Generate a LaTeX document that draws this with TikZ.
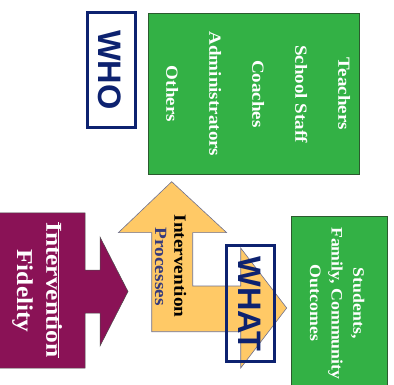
\documentclass[tikz,border=0pt]{standalone}
\usepackage{fontspec}
\newfontfamily\headsans{Liberation Sans}
\newfontfamily\boldserif[FakeStretch=1.12]{Liberation Serif Bold}
\definecolor{boxgreen}{HTML}{33B145}
\definecolor{boxgreenline}{HTML}{2B5A2E}
\definecolor{fidmaroon}{HTML}{8A1256}
\definecolor{procorange}{HTML}{FFC966}
\definecolor{procline}{HTML}{6E7190}
\definecolor{tagnavy}{HTML}{0D2270}
\definecolor{procblue}{HTML}{363B7C}
\tikzset{
  vtext/.style={rotate=-90, anchor=base, inner sep=0pt},
  greenbox/.style={fill=boxgreen, draw=boxgreenline, line width=0.8pt},
  tagbox/.style={draw=tagnavy, line width=3pt},
  tagtext/.style={vtext, text=tagnavy, font=\headsans\bfseries\fontsize{32.5}{36}\selectfont},
  listtext/.style={vtext, text=white, font=\boldserif\fontsize{17}{20}\selectfont},
  outtext/.style={vtext, text=white, font=\boldserif\fontsize{15.9}{18}\selectfont},
  fidtext/.style={vtext, text=white, font=\boldserif\fontsize{22.7}{26}\selectfont},
  proctext/.style={vtext, font=\boldserif\fontsize{17.2}{20}\selectfont},
}
\begin{document}
\begin{tikzpicture}[x=1pt,y=-1pt]
\useasboundingbox (0,0) rectangle (394,385);

% people box
\draw[greenbox] (148,13) rectangle (359,174);
\node[listtext] (teach) at (338.3,94) {Teachers};
\node[listtext] (staff) at (295.3,94) {School Staff};
\node[listtext] (coach) at (252.3,94) {Coaches};
\node[listtext] (admin) at (209.3,94) {Administrators};
\node[listtext] (other) at (166.3,94) {Others};

% outcomes box
\draw[greenbox] (291,216) rectangle (387,390);
\node[outtext] (stud) at (353.3,303.3) {Students,};
\node[outtext] (fam) at (331.7,303.3) {Family, Community};
\node[outtext] (outc) at (310,303) {Outcomes};

% fidelity block arrow
\draw[fill=fidmaroon, draw=black!70, line width=0.5pt]
  (-2,213) -- (85,213) -- (85,270) -- (100,270) -- (100,237) -- (128,291.5)
  -- (100,346) -- (100,313) -- (85,313) -- (85,368) -- (-2,368) -- cycle;
\node[fidtext] (fid1) at (46.3,290) {Intervention};
\draw[white, line width=1.3pt] ([xshift=-3.5pt]fid1.north west) -- ([xshift=-3.5pt]fid1.north east);
\node[fidtext] (fid2) at (17,291) {Fidelity};

% process bent arrow
\draw[fill=procorange, draw=procline, line width=0.6pt]
  (171.7,181.7) -- (226.7,232.7) -- (192.7,232.7) -- (192.7,286) -- (240.7,286)
  -- (240.7,248) -- (286.7,308) -- (240.7,368) -- (240.7,331.7) -- (151.7,331.7)
  -- (151.7,232.7) -- (118.3,232.7) -- cycle;
\node[proctext, text=black] (proc1) at (174.3,266) {Intervention};
\node[proctext, text=procblue] (proc2) at (155,266.7) {Processes};

% tags
\draw[tagbox, fill=white] (87,13) rectangle (135,128);
\node[tagtext] (who) at (98.3,70) {WHO};
\draw[tagbox] (226.7,245.5) rectangle (274.3,361.2);
\node[tagtext] (what) at (238.3,304) {WHAT};
\end{tikzpicture}
\end{document}
